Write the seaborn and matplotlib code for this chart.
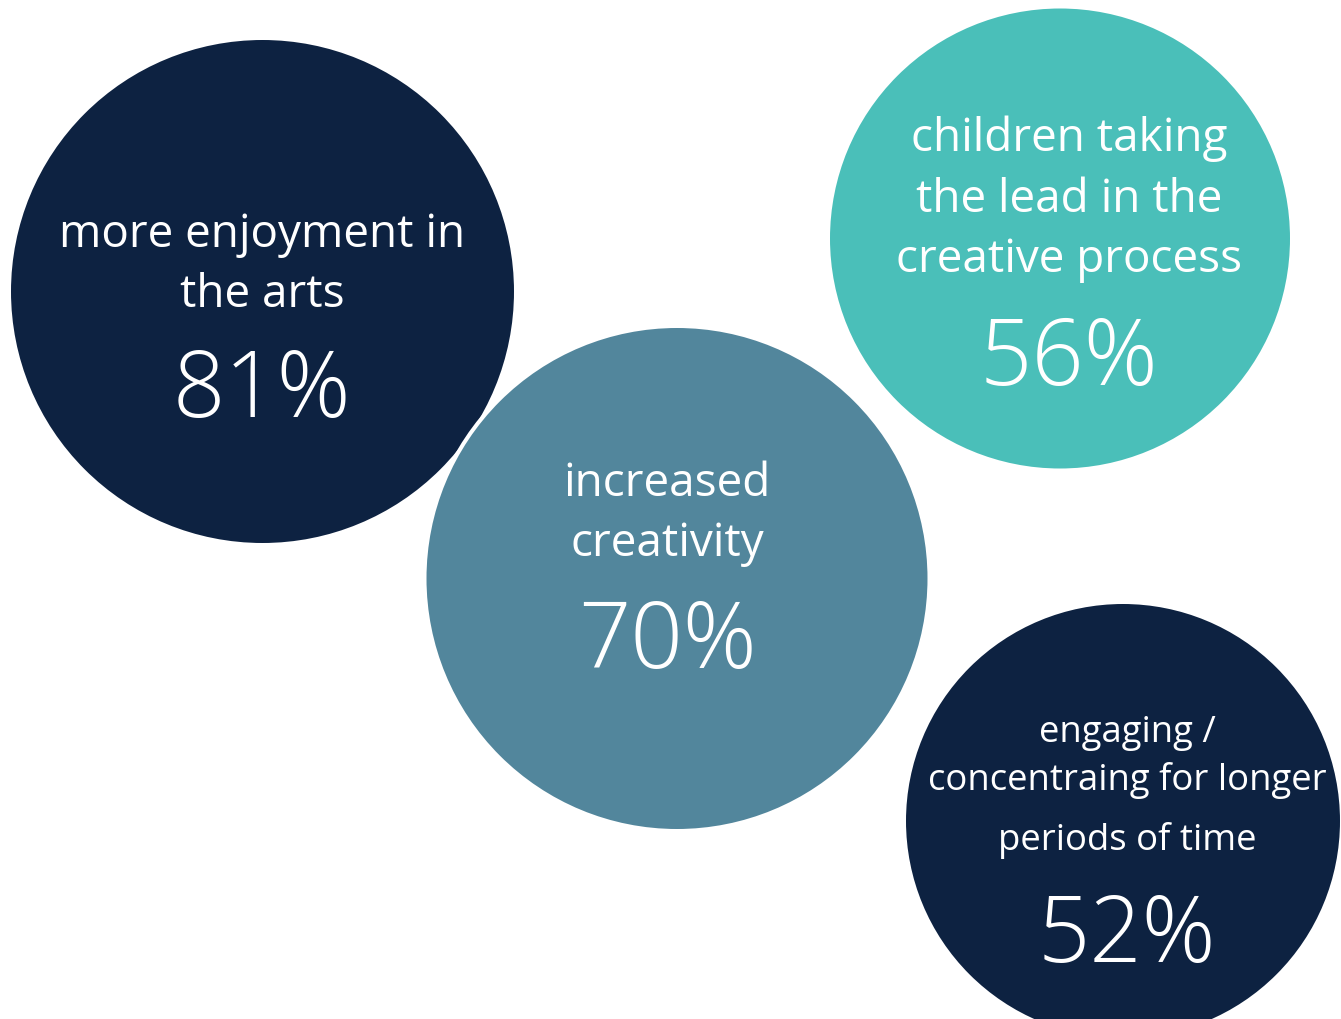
import matplotlib
matplotlib.use("Agg")
import matplotlib.pyplot as plt
import seaborn as sns
import pandas as pd

# ---- data ----
labels = [
    "more enjoyment in\nthe arts",
    "increased\ncreativity",
    "children taking\nthe lead in the\ncreative process",
    "engaging /\nconcentraing for longer\nperiods of time",
]
values = [81, 70, 56, 52]
colors = ["#0d2241", "#52869c", "#4abfb9", "#0d2241"]

# ---- layout (pixel space) ----
cx = [262.5, 677, 1060, 1123]
cy = [292.5, 579.5, 239.5, 822]
rad = [251.5, 250.5, 230, 217]
text_x = [262, 667, 1069, 1127]
label_baselines = [[247, 307], [496, 556], [151, 212, 272], [742, 790, 850]]
pct_baseline = [417, 668, 385, 962]
label_size = [33, 33, 33, 26.3]
pct_size = 66

W, H, DPI = 1341, 1020, 100
edge_px = 4.0

sns.set_theme(style="white")
plt.rcParams["font.family"] = ["Open Sans", "DejaVu Sans"]

df = pd.DataFrame({"label": labels, "value": values, "cx": cx, "cy": cy, "r": rad})

fig = plt.figure(figsize=(W / DPI, H / DPI), dpi=DPI)
ax = fig.add_axes([0, 0, 1, 1])
ax.set_xlim(0, W)
ax.set_ylim(H, 0)

pt_per_px = 72.0 / DPI
sizes = {l: (2 * (r + edge_px / 2) * pt_per_px) ** 2 for l, r in zip(labels, rad)}
palette = {l: c for l, c in zip(labels, colors)}

sns.scatterplot(
    data=df, x="cx", y="cy", hue="label", palette=palette,
    size="label", sizes=sizes, edgecolor="white",
    linewidth=edge_px * pt_per_px, legend=False, ax=ax,
)

for i, row in df.iterrows():
    for line, yb in zip(row["label"].split("\n"), label_baselines[i]):
        ax.text(text_x[i], yb, line, ha="center", va="baseline",
                color="white", fontsize=label_size[i])
    ax.text(text_x[i], pct_baseline[i], f"{row['value']}%", ha="center",
            va="baseline", color="white", fontsize=pct_size, fontweight="light")

ax.set_xlim(0, W)
ax.set_ylim(H, 0)
ax.axis("off")
fig.savefig("out.png", dpi=DPI, facecolor="white")
